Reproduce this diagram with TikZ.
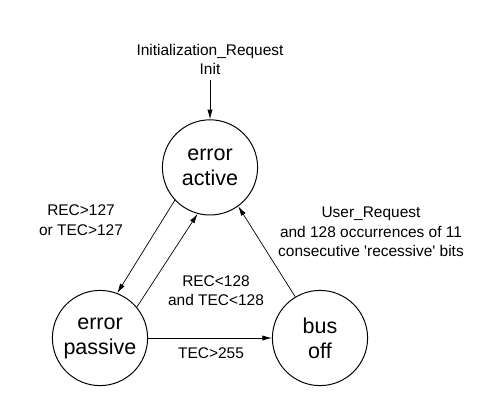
\documentclass[tikz,border=0pt]{standalone}
\usepackage{fontspec}
\setmainfont{Liberation Sans}
\usepackage{tikz}
\usetikzlibrary{arrows.meta, positioning}

\begin{document}
\begin{tikzpicture}[
    state/.style={circle, draw, line width=0.7pt, minimum size=2.38cm, inner sep=0pt, align=center, font=\fontsize{15.3}{17.8}\selectfont},
    lbl/.style={align=center, font=\fontsize{11}{13.9}\selectfont},
    arrow/.style={-{Latex[length=2.4mm,width=1.3mm]}, line width=0.5pt}
]
\useasboundingbox (0,0) rectangle (12.1,10.175);

% States
\node[state] (active) at (5.25,5.99) {error\\active};
\node[state] (passive) at (2.5,1.725) {error\\passive};
\node[state] (busoff) at (8.0,1.725) {bus\\off};

% Start
\node[lbl] (init) at (5.25,8.69) {Initialization\_Request\\Init};

% Conditions
\node[lbl] (toPassive) at (2.025,4.675) {REC>127\\or TEC>127};
\node[lbl] (toActive) at (5.4,2.91) {REC<128\\and TEC<128};
\node[lbl] (toBusoff) at (5.275,1.35) {TEC>255};
\node[lbl] (recover) at (9.275,4.375) {User\_Request\\and 128 occurrences of 11\\consecutive \textquotesingle recessive\textquotesingle\ bits};

% Transitions
\draw[arrow] (init) -- (active);
\draw[arrow] (active.223) -- (passive.69);
\draw[arrow] (passive.40) -- (active.255);
\draw[arrow] (passive.east) -- (busoff.west);
\draw[arrow] (busoff.121) -- (active.306);

\end{tikzpicture}
\end{document}
